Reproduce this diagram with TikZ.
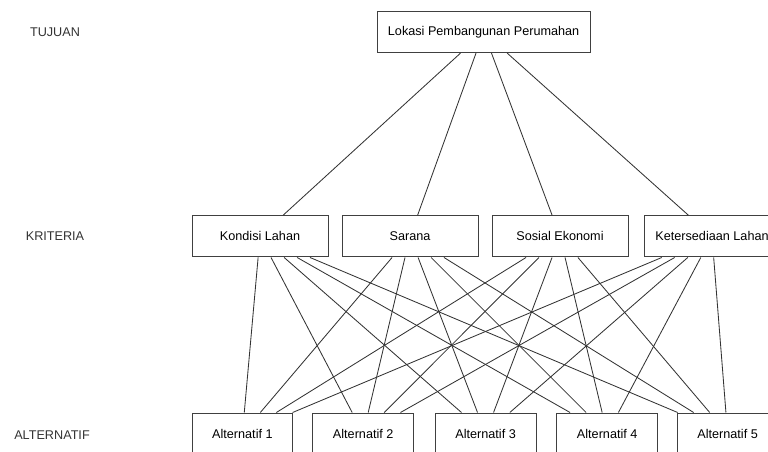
\documentclass[tikz,border=0pt]{standalone}
\usepackage{fontspec}
\setmainfont{Liberation Sans}
\begin{document}
\begin{tikzpicture}[box/.style={draw=black!75, line width=0.7pt, rectangle, minimum height=1.03cm, font=\fontsize{9}{11}\selectfont, inner sep=1pt},
  level/.style={font=\fontsize{9}{11}\selectfont, text=black!80}]
\clip (0,0) rectangle (19.2,11.3);
\node[level] (tujuan) at (1.375,10.5) {TUJUAN};
\node[level] (kriteria) at (1.375,5.39) {KRITERIA};
\node[level] (alternatif) at (1.3,0.42) {ALTERNATIF};
\node[box, minimum width=5.33cm] (goal) at (12.09,10.5) {Lokasi Pembangunan Perumahan};
\node[box, minimum width=3.4cm] (crit1) at (6.5,5.39) {Kondisi Lahan};
\node[box, minimum width=3.4cm] (crit2) at (10.25,5.39) {Sarana};
\node[box, minimum width=3.4cm] (crit3) at (14.0,5.39) {Sosial Ekonomi};
\node[box, minimum width=3.4cm] (crit4) at (17.8,5.39) {Ketersediaan Lahan};
\node[box, minimum width=2.52cm] (alt1) at (6.06,0.46) {Alternatif 1};
\node[box, minimum width=2.52cm] (alt2) at (9.08,0.46) {Alternatif 2};
\node[box, minimum width=2.52cm] (alt3) at (12.14,0.46) {Alternatif 3};
\node[box, minimum width=2.52cm] (alt4) at (15.18,0.46) {Alternatif 4};
\node[box, minimum width=2.52cm] (alt5) at (18.19,0.46) {Alternatif 5};
\foreach \c in {1,...,4}
  \draw[black!80, line width=0.6pt] (goal)--(crit\c);
\foreach \c in {1,...,4}
  \foreach \a in {1,...,5}
    \draw[black!80, line width=0.6pt] (crit\c)--(alt\a);
\end{tikzpicture}
\end{document}
